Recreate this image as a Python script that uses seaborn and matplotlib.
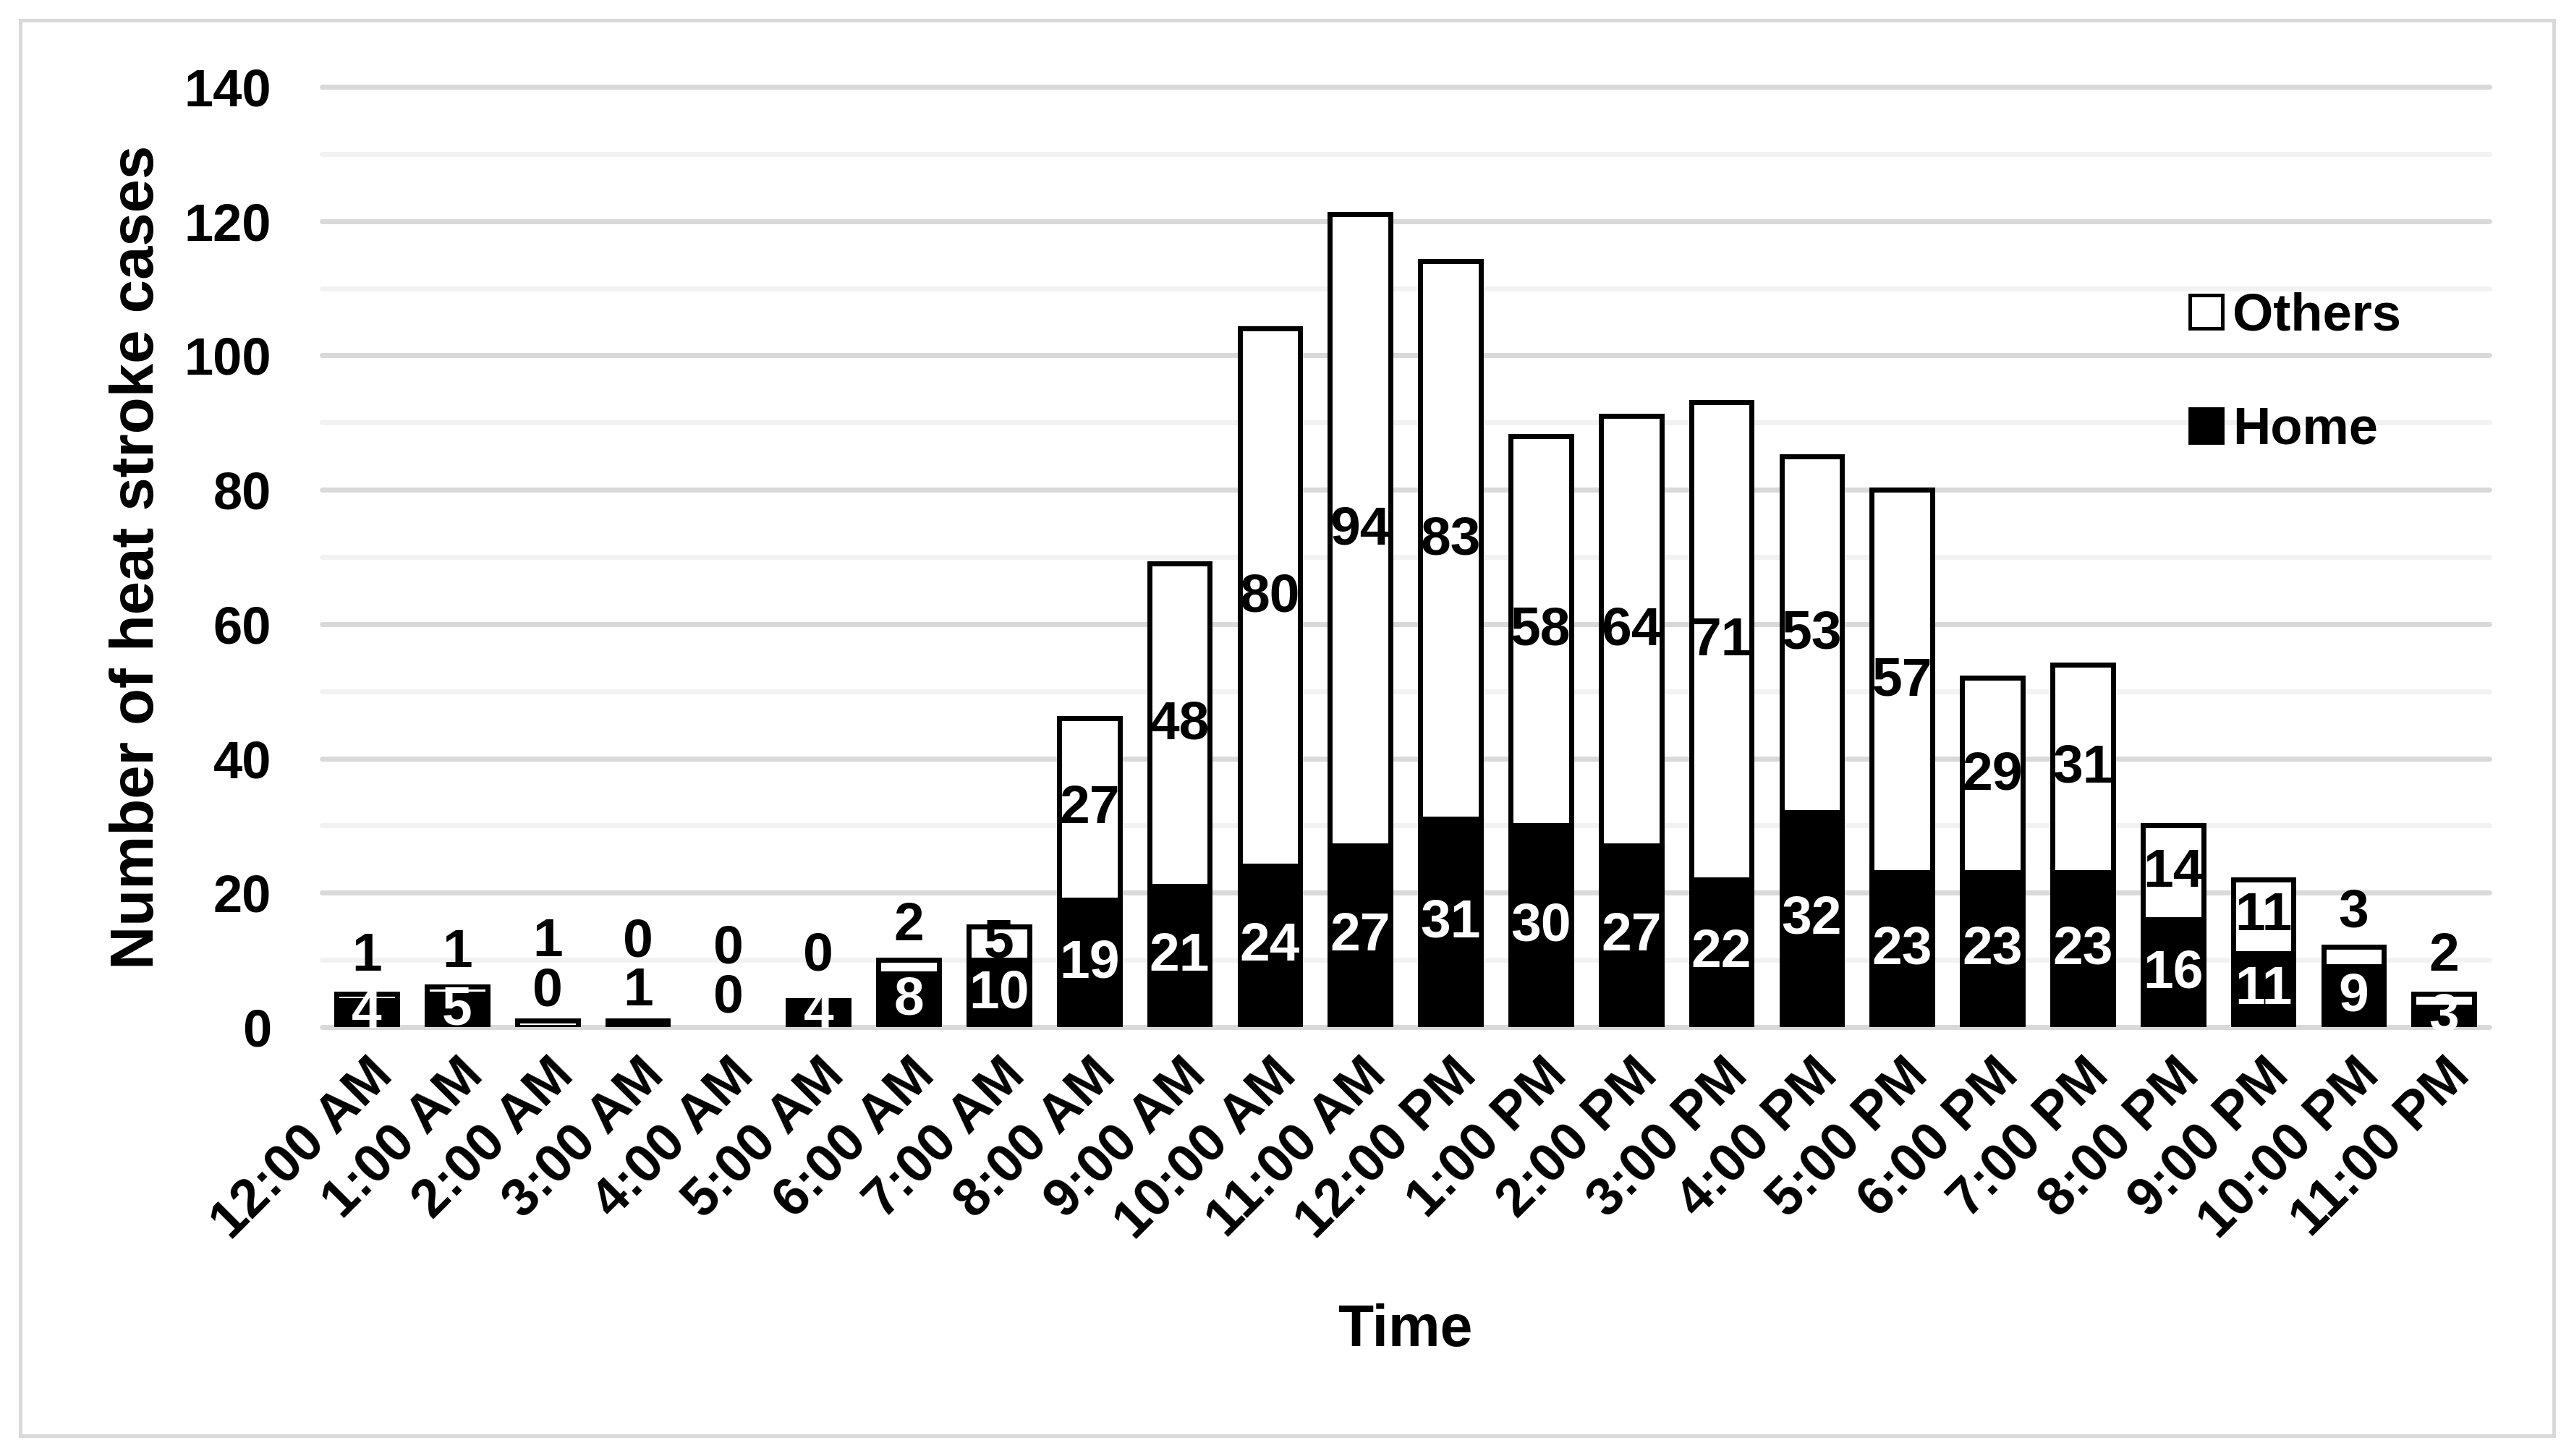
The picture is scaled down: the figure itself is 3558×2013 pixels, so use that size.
import pandas as pd
import matplotlib
matplotlib.use('Agg')
import matplotlib.pyplot as plt
import seaborn as sns
from matplotlib.patches import Rectangle
from matplotlib.ticker import MultipleLocator

# ----------------------------------------------------------------------
# data
# ----------------------------------------------------------------------
TIME_LABELS = [
    '12:00 AM', '1:00 AM', '2:00 AM', '3:00 AM', '4:00 AM', '5:00 AM',
    '6:00 AM', '7:00 AM', '8:00 AM', '9:00 AM', '10:00 AM', '11:00 AM',
    '12:00 PM', '1:00 PM', '2:00 PM', '3:00 PM', '4:00 PM', '5:00 PM',
    '6:00 PM', '7:00 PM', '8:00 PM', '9:00 PM', '10:00 PM', '11:00 PM',
]
HOME = [4, 5, 0, 1, 0, 4, 8, 10, 19, 21, 24, 27,
        31, 30, 27, 22, 32, 23, 23, 23, 16, 11, 9, 3]
OTHERS = [1, 1, 1, 0, 0, 0, 2, 5, 27, 48, 80, 94,
          83, 58, 64, 71, 53, 57, 29, 31, 14, 11, 3, 2]

OUTPUT_IMAGE_FILE = 'out.png'

FONT = 'Liberation Sans'
GRID_MAJOR = '#d9d9d9'
GRID_MINOR = '#f2f2f2'


def main():
    df = pd.DataFrame({'time': TIME_LABELS, 'home': HOME, 'others': OTHERS})
    df['total'] = df['home'] + df['others']

    sns.set_style('white')
    plt.rcParams['font.family'] = [FONT, 'DejaVu Sans']
    plt.rcParams['font.weight'] = 'bold'
    for key in ('text.color', 'axes.labelcolor', 'xtick.color', 'ytick.color'):
        plt.rcParams[key] = 'black'

    fig = plt.figure(figsize=(35.58, 20.13), dpi=100)
    ax = fig.add_axes([0.125, 0.2946, 0.842, 0.6458])

    # --- stacked bars: full height in white (Others), Home in black on top ---
    sns.barplot(data=df, x='time', y='total', color='white', saturation=1,
                edgecolor='black', linewidth=5, width=0.67, errorbar=None,
                label='Others', ax=ax, zorder=3)
    sns.barplot(data=df, x='time', y='home', color='black', saturation=1,
                edgecolor='black', linewidth=5, width=0.67, errorbar=None,
                label='Home', ax=ax, zorder=4)
    for p in ax.patches:
        if p.get_height() == 0:
            p.set_linewidth(0)

    # --- value labels ---
    for i, (h, o, t) in enumerate(zip(df['home'], df['others'], df['total'])):
        if h >= 2:
            hy, hc = h / 2, 'white'
            above = None
        else:
            hy, hc = t + 4.3, 'black'
            above = hy
        ax.text(i, hy, str(h), ha='center', va='center', color=hc,
                fontsize=54, fontweight='bold', zorder=6)
        if o >= 4:
            oy = h + o / 2
        else:
            oy = max(t + 5, 10.5)
            if above is not None:
                oy = max(oy, above + 7.3)
        ax.text(i, oy, str(o), ha='center', va='center', color='black',
                fontsize=54, fontweight='bold', zorder=6)

    # --- axes / grid ---
    ax.set_ylim(0, 140)
    ax.set_xlim(-0.5, len(df) - 0.5)
    ax.yaxis.set_major_locator(MultipleLocator(20))
    ax.yaxis.set_minor_locator(MultipleLocator(10))
    for v in range(10, 140, 20):
        ax.axhline(v, color=GRID_MINOR, lw=5, zorder=0, clip_on=False)
    for v in range(0, 141, 20):
        ax.axhline(v, color=GRID_MAJOR, lw=5, zorder=1, clip_on=False)
    sns.despine(ax=ax, left=True, bottom=True)

    ax.tick_params(axis='both', which='both', length=0)
    ax.tick_params(axis='y', labelsize=52, pad=50)
    ax.tick_params(axis='x', labelsize=53, pad=22)
    for lbl in ax.get_xticklabels():
        lbl.set_rotation(45)
        lbl.set_ha('right')
        lbl.set_rotation_mode('anchor')
        lbl.set_fontweight('bold')
    for lbl in ax.get_yticklabels():
        lbl.set_fontweight('bold')

    ax.set_xlabel('Time', fontsize=58, fontweight='bold')
    ax.set_ylabel('Number of heat stroke cases', fontsize=60,
                  fontweight='bold')
    ax.xaxis.set_label_coords(0.5, -0.294)
    ax.yaxis.set_label_coords(-0.072, 0.5)

    leg = ax.legend(loc='upper left', bbox_to_anchor=(0.862, 0.782),
                    frameon=False, fontsize=52, borderpad=0,
                    borderaxespad=0, handlelength=0.62, handleheight=0.62,
                    handletextpad=0.2, labelspacing=1.24)
    for hnd in leg.legend_handles:
        hnd.set_linewidth(3.5)
    for txt in leg.get_texts():
        txt.set_fontweight('bold')

    # outer chart-area border
    fig.patches.append(Rectangle((0.008, 0.014), 0.984, 0.972,
                                 transform=fig.transFigure, fill=False,
                                 edgecolor=GRID_MAJOR, lw=3.6, zorder=0))

    plt.savefig(OUTPUT_IMAGE_FILE, dpi=100, facecolor='white')


if __name__ == '__main__':
    main()
